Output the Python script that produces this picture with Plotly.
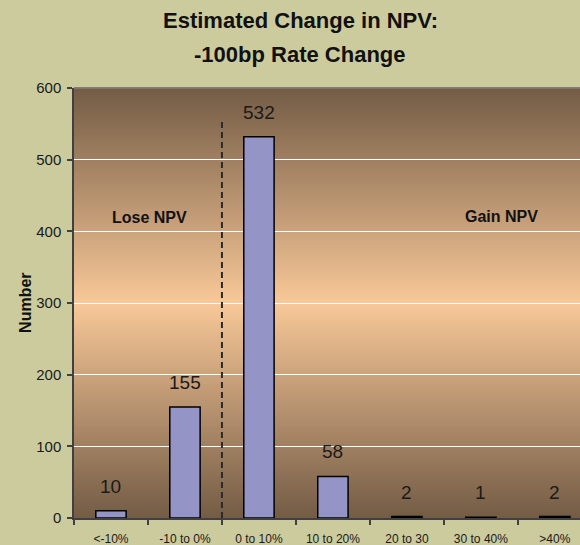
import plotly.graph_objects as go

categories = ["<-10%", "-10 to 0%", "0 to 10%", "10 to 20%", "20 to 30", "30 to 40%", ">40%"]
counts = [10, 155, 532, 58, 2, 1, 2]
y_ticks = [0, 100, 200, 300, 400, 500, 600]

FONT = "Liberation Sans, Arial, sans-serif"

x_idx = list(range(len(categories)))

fig = go.Figure()
fig.add_trace(go.Bar(
    x=x_idx, y=counts, width=0.41,
    marker=dict(color="#9494C6", line=dict(color="#000000", width=1.5)),
    hoverinfo="skip",
))

# gradient background (edge -> center -> edge), drawn as thin strips below gridlines
edge = (0x73, 0x5B, 0x45)
center = (0xF8, 0xC8, 0x98)
n = 215
shapes = []
for i in range(n):
    y0 = i / n
    y1 = (i + 1) / n
    mid = (y0 + y1) / 2
    t = abs(mid - 0.5) / 0.5
    c = tuple(round(center[k] + (edge[k] - center[k]) * t) for k in range(3))
    shapes.append(dict(type="rect", xref="x domain", yref="y domain",
                       x0=0, x1=1, y0=y0, y1=y1 + 0.002,
                       fillcolor="rgb(%d,%d,%d)" % c, line=dict(width=0), layer="below"))
# top border
shapes.append(dict(type="line", xref="x domain", yref="y domain", x0=0, x1=1, y0=1, y1=1,
                   line=dict(color="#7f7f7f", width=1.5), layer="above"))
# dashed divider
shapes.append(dict(type="line", xref="x", yref="y", x0=1.5, x1=1.5, y0=0, y1=553,
                   line=dict(color="#2a2a2a", width=2, dash="6px,4px"), layer="above"))

annotations = []
for xi, v in zip(x_idx, counts):
    annotations.append(dict(x=xi, y=v, xref="x", yref="y", text=str(v), showarrow=False,
                            xanchor="center", yanchor="bottom", yshift=12,
                            font=dict(family=FONT, size=19, color="#1a1a1a")))
annotations += [
    dict(x=0.527, y=419, xref="x", yref="y", text="<b>Lose NPV</b>", showarrow=False,
         xanchor="center", yanchor="middle",
         font=dict(family=FONT, size=16, color="#111111")),
    dict(x=5.28, y=421, xref="x", yref="y", text="<b>Gain NPV</b>", showarrow=False,
         xanchor="center", yanchor="middle",
         font=dict(family=FONT, size=16, color="#111111")),
    dict(x=0.447, y=1.156, xref="paper", yref="paper", text="<b>Estimated Change in NPV:</b>",
         showarrow=False, xanchor="center", yanchor="middle",
         font=dict(family=FONT, size=22, color="#111111")),
    dict(x=0.447, y=1.079, xref="paper", yref="paper", text="<b>-100bp Rate Change</b>",
         showarrow=False, xanchor="center", yanchor="middle",
         font=dict(family=FONT, size=22, color="#111111")),
    dict(x=-0.097, y=0.5, xref="paper", yref="paper", text="<b>Number</b>", textangle=-90,
         showarrow=False, xanchor="center", yanchor="middle",
         font=dict(family=FONT, size=16, color="#111111")),
]

fig.update_layout(
    width=580, height=545,
    margin=dict(l=74, r=0, t=88, b=27),
    paper_bgcolor="#CCCB9E",
    plot_bgcolor="#F8C898",
    showlegend=False,
    shapes=shapes,
    annotations=annotations,
)
fig.update_xaxes(
    type="linear",
    tickmode="array", tickvals=x_idx, ticktext=categories,
    range=[-0.5, 6.34],
    showgrid=False, zeroline=False,
    showline=True, linecolor="#404040", linewidth=1.5,
    ticks="", ticklabelstandoff=9,
    tickfont=dict(family=FONT, size=12, color="#1a1a1a"),
)
# boundary tick marks via minor ticks
fig.update_xaxes(minor=dict(tickmode="array", tickvals=[i - 0.5 for i in x_idx] + [6.5],
                            ticks="outside", ticklen=5, tickcolor="#404040", tickwidth=1.5,
                            showgrid=False))
fig.update_yaxes(
    range=[0, 600], tickmode="array", tickvals=y_ticks,
    showgrid=True, gridcolor="#FFFFFF", gridwidth=1, zeroline=False,
    showline=True, linecolor="#404040", linewidth=1.5,
    ticks="outside", ticklen=5, tickcolor="#404040", tickwidth=1.5,
    ticklabelstandoff=3,
    tickfont=dict(family=FONT, size=15, color="#1a1a1a"),
)

fig.write_html(
    "out.html",
    config={"displayModeBar": False},
    post_script="document.body.style.margin='0';document.body.style.background='#CCCB9E';",
)
